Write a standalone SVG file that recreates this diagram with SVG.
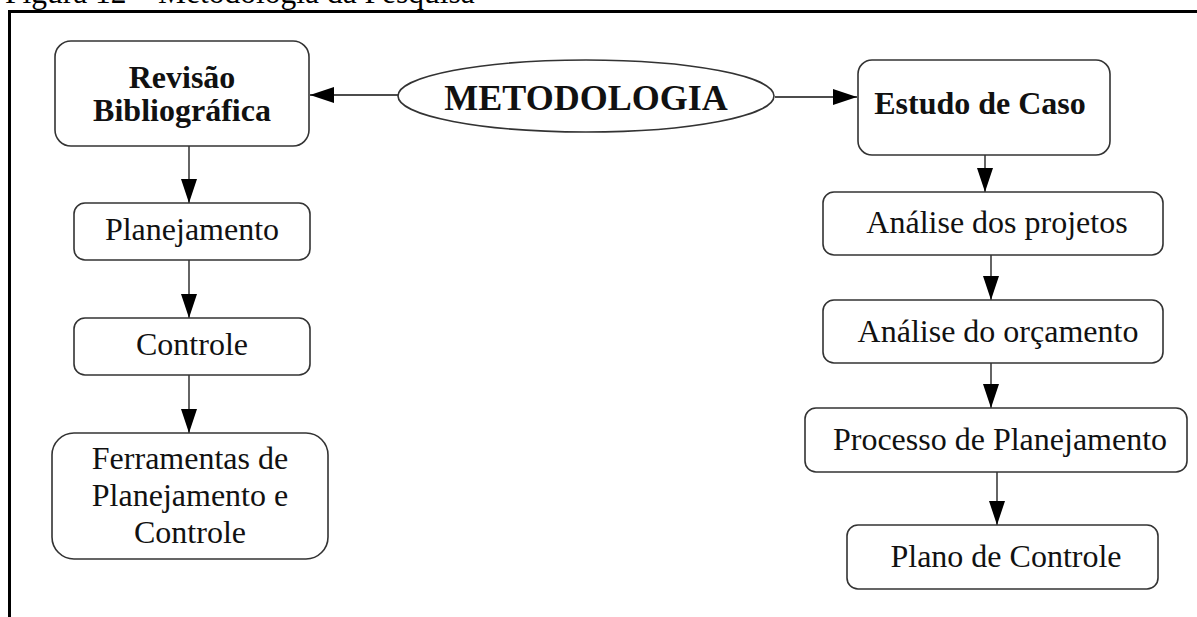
<svg xmlns="http://www.w3.org/2000/svg" width="1197" height="617" viewBox="0 0 1197 617">
  <defs>
    <style>
      .frame { fill: none; stroke: #000; stroke-width: 3; }
      .box { fill: #fff; stroke: #333; stroke-width: 1.6; }
      .link { fill: none; stroke: #111; stroke-width: 1.3; }
      .t { font-family: "Liberation Serif", "Times New Roman", serif; fill: #111; text-anchor: middle; }
      .reg { font-size: 32px; }
      .bold { font-size: 32px; font-weight: bold; }
      .title { font-size: 36px; font-weight: bold; }
      .caption { font-family: "Liberation Serif", "Times New Roman", serif; font-size: 31.5px; fill: #000; }
    </style>
    <marker id="arrow" viewBox="0 0 24 16" refX="24" refY="8" markerWidth="24" markerHeight="16" markerUnits="userSpaceOnUse" orient="auto">
      <path d="M0,0 L24,8 L0,16 z" fill="#000"/>
    </marker>
  </defs>

  <rect width="1197" height="617" fill="#fff"/>

  <!-- caption, cut off at the top edge -->
  <text class="caption" x="5" y="3">Figura 12 – Metodologia da Pesquisa</text>

  <!-- outer frame (top and left edges) -->
  <path class="frame" d="M9.5,617 V11.5 H1197"/>

  <!-- connectors -->
  <g id="connectors">
    <line class="link" x1="398" y1="95" x2="310" y2="95" marker-end="url(#arrow)"/>
    <line class="link" x1="775" y1="97" x2="857" y2="97" marker-end="url(#arrow)"/>
    <line class="link" x1="189" y1="146" x2="189" y2="203" marker-end="url(#arrow)"/>
    <line class="link" x1="189" y1="260" x2="189" y2="318" marker-end="url(#arrow)"/>
    <line class="link" x1="189" y1="375" x2="189" y2="433" marker-end="url(#arrow)"/>
    <line class="link" x1="985" y1="155" x2="985" y2="192" marker-end="url(#arrow)"/>
    <line class="link" x1="991" y1="255" x2="991" y2="300" marker-end="url(#arrow)"/>
    <line class="link" x1="991" y1="363" x2="991" y2="408" marker-end="url(#arrow)"/>
    <line class="link" x1="997" y1="472" x2="997" y2="525" marker-end="url(#arrow)"/>
  </g>

  <!-- central node -->
  <g id="metodologia">
    <ellipse class="box" cx="586" cy="96" rx="188" ry="36"/>
    <text class="t title" x="586" y="110">METODOLOGIA</text>
  </g>

  <!-- left branch -->
  <g id="revisao">
    <rect class="box" x="55" y="41" width="254" height="105" rx="16"/>
    <text class="t bold" x="182" y="88">Revisão</text>
    <text class="t bold" x="182" y="121">Bibliográfica</text>
  </g>
  <g id="planejamento">
    <rect class="box" x="74" y="203" width="236" height="57" rx="11"/>
    <text class="t reg" x="192" y="240">Planejamento</text>
  </g>
  <g id="controle">
    <rect class="box" x="74" y="318" width="236" height="57" rx="11"/>
    <text class="t reg" x="192" y="355">Controle</text>
  </g>
  <g id="ferramentas">
    <rect class="box" x="52" y="433" width="276" height="126" rx="22"/>
    <text class="t reg" x="190" y="469">Ferramentas de</text>
    <text class="t reg" x="190" y="506">Planejamento e</text>
    <text class="t reg" x="190" y="543">Controle</text>
  </g>

  <!-- right branch -->
  <g id="estudo-de-caso">
    <rect class="box" x="858" y="60" width="252" height="95" rx="14"/>
    <text class="t bold" x="980" y="114">Estudo de Caso</text>
  </g>
  <g id="analise-projetos">
    <rect class="box" x="823" y="192" width="340" height="63" rx="11"/>
    <text class="t reg" x="997" y="233">Análise dos projetos</text>
  </g>
  <g id="analise-orcamento">
    <rect class="box" x="823" y="300" width="340" height="63" rx="11"/>
    <text class="t reg" x="998" y="342">Análise do orçamento</text>
  </g>
  <g id="processo-planejamento">
    <rect class="box" x="805" y="408" width="382" height="64" rx="11"/>
    <text class="t reg" x="1000" y="450">Processo de Planejamento</text>
  </g>
  <g id="plano-controle">
    <rect class="box" x="847" y="525" width="311" height="64" rx="11"/>
    <text class="t reg" x="1006" y="567">Plano de Controle</text>
  </g>
</svg>
